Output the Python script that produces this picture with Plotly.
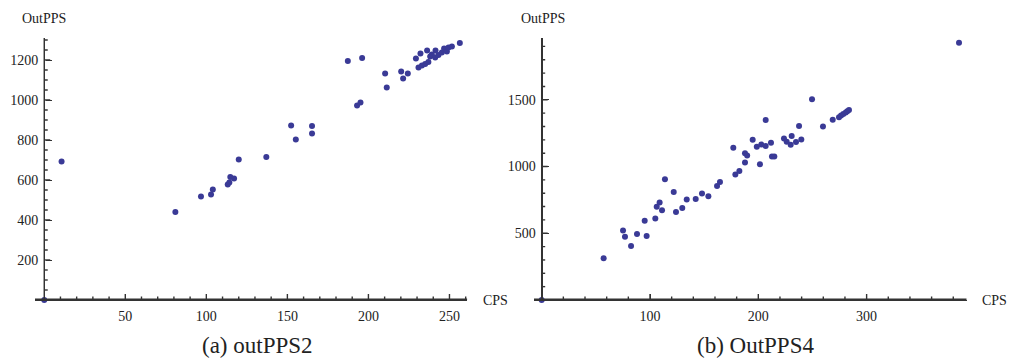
import plotly.graph_objects as go

# ---- data: (a) outPPS2 ----
cps_a = [0, 10.7, 80.9, 96.7, 102.9, 104.0, 113.2, 114.2, 114.8, 117.1, 120.0, 137.0,
         152.3, 155.2, 165.2, 165.2, 187.3, 196.1, 193.0, 195.1, 210.3, 211.3, 220.2,
         221.4, 224.3, 229.3, 232.1, 236.2, 241.4, 230.9, 233.0, 235.0, 237.0, 238.1,
         239.1, 241.2, 243.2, 245.3, 246.7, 248.4, 249.4, 251.5, 256.4]
outpps_a = [0, 693, 440, 518, 527, 552, 577, 587, 615, 607, 703, 715,
            873, 803, 870, 833, 1195, 1210, 973, 988, 1133, 1062, 1143,
            1107, 1132, 1207, 1232, 1247, 1247, 1163, 1172, 1180, 1190, 1217,
            1228, 1213, 1225, 1238, 1258, 1242, 1262, 1267, 1285]

# ---- data: (b) OutPPS4 ----
cps_b = [0, 57.2, 75.1, 76.9, 82.5, 88.0, 95.1, 96.9, 104.9, 106.2, 108.9, 111.1,
         113.8, 121.9, 124.0, 129.8, 133.9, 142.2, 148.0, 153.9, 161.9, 164.6,
         176.9, 178.8, 182.5, 187.7, 187.7, 189.7, 194.8, 198.6, 201.5, 202.8,
         206.8, 206.8, 211.7, 212.6, 214.8, 223.7, 226.2, 229.9, 230.8, 234.8,
         237.6, 239.7, 249.6, 259.7, 268.7, 274.5, 276.4, 278.5, 280.7, 282.2,
         283.7, 385.3]
outpps_b = [0, 312, 520, 473, 405, 495, 593, 480, 610, 698, 730, 673,
            905, 810, 660, 690, 753, 757, 798, 778, 855, 885,
            1140, 940, 966, 1030, 1099, 1082, 1200, 1148, 1017, 1165,
            1348, 1153, 1178, 1075, 1075, 1210, 1185, 1163, 1228, 1183,
            1303, 1203, 1505, 1300, 1350, 1370, 1383, 1393, 1405, 1415,
            1423, 1928]

# tick steps (major, minor)
x_step_a, x_minor_a = 50, 10
y_step_a, y_minor_a = 200, 50
x_step_b, x_minor_b = 100, 20
y_step_b, y_minor_b = 500, 100

FONT = "Liberation Serif"
AX = "#333333"
MARK = "rgb(58,58,150)"
W, H = 1009, 359

fig = go.Figure()
fig.add_trace(go.Scatter(x=cps_a, y=outpps_a, mode="markers", xaxis="x", yaxis="y",
                         marker=dict(size=6, color=MARK), cliponaxis=False, showlegend=False))
fig.add_trace(go.Scatter(x=cps_b, y=outpps_b, mode="markers", xaxis="x2", yaxis="y2",
                         marker=dict(size=6, color=MARK), cliponaxis=False, showlegend=False))

ydom = [1 - 300 / H, 1 - 38 / H]
xdom_a = [35 / W, 467.3 / W]
xdom_b = [534 / W, 966.7 / W]
xr_a, yr_a = [-5.7, 261], [0, 1310]
xr_b, yr_b = [-7.1, 392.4], [0, 1963]


def major(step):
    return dict(tickmode="linear", tick0=0, dtick=step,
                ticks="inside", ticklen=6, tickwidth=1.4, tickcolor=AX,
                showline=True, linecolor=AX, linewidth=1.4,
                showgrid=False, zeroline=False,
                labelalias={"0": ""}, ticklabelstandoff=3,
                tickfont=dict(family=FONT, size=14, color="#222"))


fig.update_layout(
    width=W, height=H, margin=dict(l=0, r=0, t=0, b=0),
    paper_bgcolor="white", plot_bgcolor="white",
    font=dict(family=FONT, color="#222"),
    xaxis=dict(domain=xdom_a, range=xr_a, anchor="y", **major(x_step_a)),
    yaxis=dict(domain=ydom, range=yr_a, anchor="free", position=44.3 / W, **major(y_step_a)),
    xaxis2=dict(domain=xdom_b, range=xr_b, anchor="y2", **major(x_step_b)),
    yaxis2=dict(domain=ydom, range=yr_b, anchor="free", position=541.7 / W, **major(y_step_b)),
)


def rect(xref, yref, **kw):
    fig.add_shape(type="rect", xref=xref, yref=yref, fillcolor=AX,
                  line=dict(width=0), layer="above", **kw)


def draw_axes(xr, yr, xs, xm, ys, ym, xref, yref):
    # axis lines through the origin
    rect(xref, yref, x0=xr[0], x1=xr[1], ysizemode="pixel", yanchor=0, y0=0, y1=1.4)
    rect(xref, yref, y0=yr[0], y1=yr[1], xsizemode="pixel", xanchor=0, x0=-0.7, x1=0.7)
    v = xm
    while v <= xr[1]:
        ln = 6 if v % xs == 0 else 3.5
        rect(xref, yref, xsizemode="pixel", xanchor=v, x0=-0.7, x1=0.7,
             ysizemode="pixel", yanchor=0, y0=0, y1=ln)
        v += xm
    v = ym
    while v <= yr[1]:
        ln = 6 if v % ys == 0 else 3.5
        rect(xref, yref, ysizemode="pixel", yanchor=v, y0=-0.7, y1=0.7,
             xsizemode="pixel", xanchor=0, x0=0, x1=ln)
        v += ym


draw_axes(xr_a, yr_a, x_step_a, x_minor_a, y_step_a, y_minor_a, "x", "y")
draw_axes(xr_b, yr_b, x_step_b, x_minor_b, y_step_b, y_minor_b, "x2", "y2")

ann = [
    ("OutPPS", 43.5, 19, 14, "center"),
    ("OutPPS", 542.5, 19, 14, "center"),
    ("CPS", 481, 300, 14, "left"),
    ("CPS", 980, 300, 14, "left"),
    ("(a) outPPS2", 257, 345, 23, "center"),
    ("(b) OutPPS4", 755, 345, 23, "center"),
]
for t, x, y, s, xa_ in ann:
    fig.add_annotation(text=t, x=x / W, y=1 - y / H, xref="paper", yref="paper",
                       xanchor=xa_, yanchor="middle", showarrow=False,
                       font=dict(family=FONT, size=s, color="#222"))

fig.write_html("out.html")
